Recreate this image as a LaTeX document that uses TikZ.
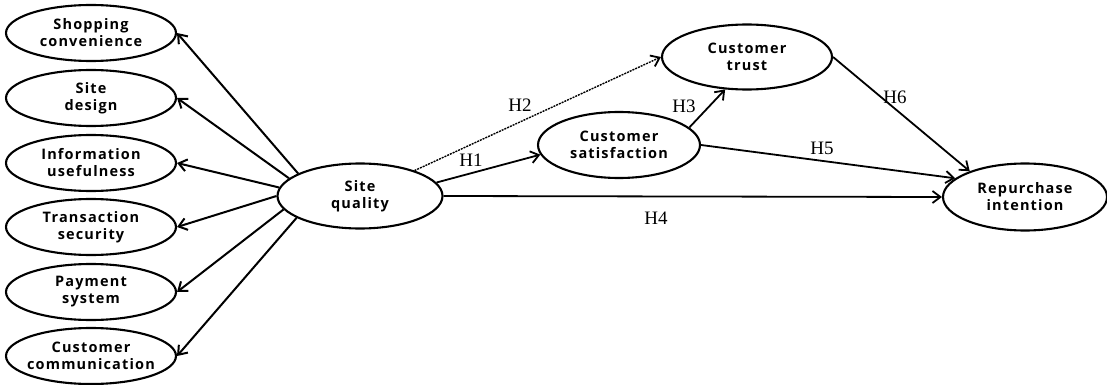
\documentclass[tikz,border=0pt]{standalone}
\usepackage{fontspec}
\setmainfont{Liberation Serif}
\newfontfamily\constructfont[LetterSpace=8]{Open Sans}
\usetikzlibrary{arrows.meta,shapes.geometric}

\tikzset{
  construct/.style={ellipse, draw, line width=2.1pt, align=center,
    inner xsep=-30pt, inner ysep=-12pt,
    minimum width=165pt, minimum height=65pt,
    font=\constructfont\bfseries\fontsize{14.5}{17}\selectfont},
  facet/.style={construct, minimum width=170pt, minimum height=56pt},
  link/.style={line width=2pt, -{Straight Barb[length=8pt,width=12pt,line width=2pt]}},
  hpath/.style={line width=1.8pt, -{Straight Barb[length=8pt,width=12pt,line width=1.8pt]}},
  hyp/.style={font=\fontsize{19}{19}\selectfont, inner sep=0pt}
}

\begin{document}
\begin{tikzpicture}[x=1pt,y=-1pt]
\useasboundingbox (0,0) rectangle (1107,385);

% facets of site quality
\node[facet] (conv) at (91,33)  {Shopping\\convenience};
\node[facet] (des)  at (91,98)  {Site\\design};
\node[facet] (info) at (91,163) {Information\\usefulness};
\node[facet] (sec)  at (91,227) {Transaction\\security};
\node[facet] (pay)  at (91,292) {Payment\\system};
\node[facet] (comm) at (91,356) {Customer\\communication};

% main constructs
\node[construct] (sq) at (360,196) {Site\\quality};
\node[construct, minimum width=162pt, minimum height=66pt] (cs) at (619,145) {Customer\\satisfaction};
\node[construct, minimum width=170pt] (ct) at (747,57) {Customer\\trust};
\node[construct, minimum width=164pt, minimum height=67pt] (rp) at (1025,197) {Repurchase\\intention};

% site quality to its facets
\draw[link] (sq.160) -- (conv.east);
\draw[link] (sq.166) -- (des.east);
\draw[link] (sq.174) -- (info.east);
\draw[link] (sq.180) -- (sec.east);
\draw[link] (sq.190) -- (pay.east);
\draw[link] (sq.199) -- (comm.east);

% hypothesised paths
\draw[hpath] (sq.10) -- (cs.187);
\draw[hpath, line width=1.4pt, dash pattern=on 2pt off 1pt] (sq.25) -- (ct.west);
\draw[hpath] (cs.14) -- (ct.236);
\draw[hpath] (sq.east) -- (rp.west);
\draw[hpath] (cs.east) -- (rp.165);
\draw[hpath] (ct.east) -- (rp.155);

% hypothesis labels
\node[hyp] (h1) at (471,160) {H1};
\node[hyp] (h2) at (520,105) {H2};
\node[hyp] (h3) at (684,106) {H3};
\node[hyp] (h4) at (656,218) {H4};
\node[hyp] (h5) at (822,148) {H5};
\node[hyp] (h6) at (895,97)  {H6};
\end{tikzpicture}
\end{document}
